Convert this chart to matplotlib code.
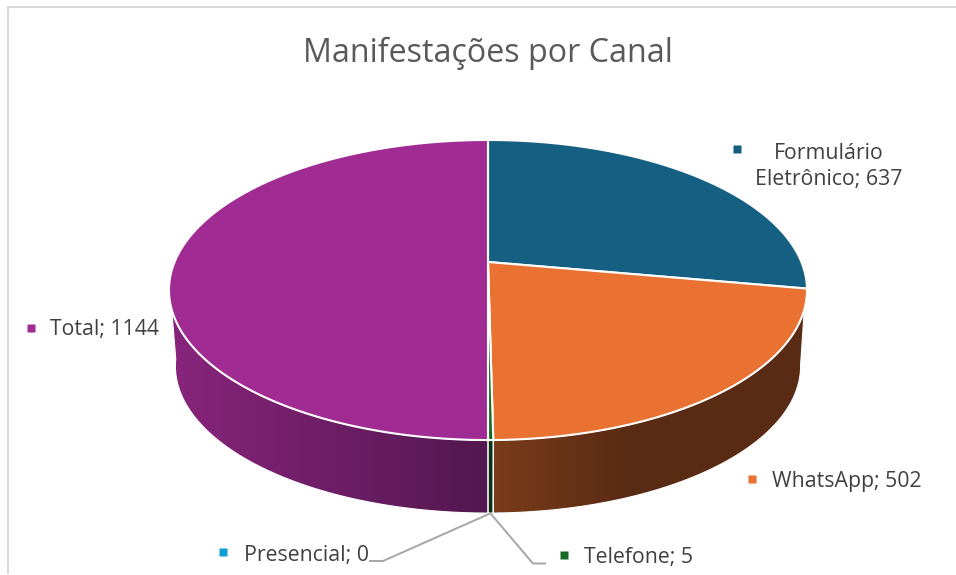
import numpy as np
import matplotlib
matplotlib.use("Agg")
import matplotlib.pyplot as plt
from matplotlib.path import Path
from matplotlib.patches import PathPatch

TITLE = "Manifestações por Canal"
categories = ["Formulário Eletrônico", "WhatsApp", "Telefone", "Presencial", "Total"]
values = [637, 502, 5, 0, 1144]
top_colors = ["#156082", "#E97132", "#196B24", "#0F9ED5", "#A02B93"]
# side-wall shading: colour at the start and end of a horizontal run (x0, x1 in pixels)
wall_shade = {
    "#E97132": ((122, 60, 26), (90, 43, 20), 493, 625),
    "#196B24": ((10, 50, 20), (10, 50, 20), 480, 500),
    "#A02B93": ((136, 36, 124), (84, 24, 80), 175, 478),
}

plt.rcParams["font.family"] = ["Open Sans", "DejaVu Sans"]
W, H = 956, 575
fig = plt.figure(figsize=(W / 100, H / 100), dpi=100)
ax = fig.add_axes([0, 0, 1, 1])
ax.axis("off")

# perspective projection of the pie's unit circle
CX, CY, A, B, K = 488, 262, 313.4, 144.8, 0.1867
BOT_CY, BOT_S = 338.6, 0.98


def project(theta, bottom=False):
    u, v = np.sin(theta), np.cos(theta)
    d = 1 + K * v
    x = A * u / d
    y = -B * v / d
    if bottom:
        return CX + BOT_S * x, BOT_CY + BOT_S * y
    return CX + x, CY + y


frac = np.array(values, float) / sum(values)
edges = np.concatenate([[0], np.cumsum(frac)]) * 2 * np.pi
TOP_VIS = np.radians([108, 252])
BOT_VIS = np.radians([98, 262])

# chart frame: top and left rules only
ax.plot([8, 8, W], [574, 6.5, 6.5], color="#D9D9D9", lw=1.5, solid_capstyle="butt", solid_joinstyle="miter")

# side walls: horizontal gradient clipped to the wall outline
for i, col in enumerate(top_colors):
    if edges[i + 1] <= edges[i] or col not in wall_shade:
        continue
    ta, tb = max(edges[i], TOP_VIS[0]), min(edges[i + 1], TOP_VIS[1])
    ba, bb = max(edges[i], BOT_VIS[0]), min(edges[i + 1], BOT_VIS[1])
    xt, yt = project(np.linspace(ta, tb, 240))
    xb, yb = project(np.linspace(ba, bb, 240), True)
    xo = np.concatenate([xt, xb[::-1], xt[:1]])
    yo = np.concatenate([yt, yb[::-1], yt[:1]])
    c0, c1, x0, x1 = wall_shade[col]
    px = np.arange(W) + 0.5
    t = np.clip((px - x0) / (x1 - x0), 0, 1)[:, None]
    rgb = (np.array(c0) + t * (np.array(c1) - np.array(c0))) / 255
    im = ax.imshow(rgb[None, :, :], extent=(0, W, H, 0), aspect="auto", zorder=2, interpolation="nearest")
    patch = PathPatch(Path(np.c_[xo, yo]), transform=ax.transData, facecolor="none", edgecolor="none")
    ax.add_patch(patch)
    im.set_clip_path(patch)
    ax.plot(xo, yo, color="white", lw=0.8, zorder=3)

# top face
for i, col in enumerate(top_colors):
    a, b = edges[i], edges[i + 1]
    if b <= a:
        continue
    th = np.linspace(a, b, max(3, int((b - a) / 0.005)))
    x, y = project(th)
    ax.fill(np.r_[CX, x], np.r_[CY, y], facecolor=col, edgecolor="white", lw=1.5, zorder=4, joinstyle="round")

# data labels
label_color = "#404040"
LFS = 15.3


def label(marker_xy, text_xy, text, col, ha="left"):
    ax.plot(*marker_xy, marker="s", ms=5.6, color=col, mec="none", zorder=6)
    ax.text(*text_xy, text, fontsize=LFS, color=label_color, ha=ha, va="center", linespacing=1.33, zorder=6)


label((737, 149), (829, 166.5), "Formulário\nEletrônico; " + str(values[0]), top_colors[0], ha="center")
label((752, 479), (772, 482), f"{categories[1]}; {values[1]}", top_colors[1])
label((564, 555), (584, 558), f"{categories[2]}; {values[2]}", top_colors[2])
label((223, 552), (244, 555.5), f"{categories[3]}; {values[3]}", top_colors[3])
label((31, 328), (50, 330), f"{categories[4]}; {values[4]}", top_colors[4])

# leader lines
ax.plot([370, 383, 489], [561, 561, 514], color="#A6A6A6", lw=1.4, zorder=5)
ax.plot([491, 533, 545], [514, 563.5, 563.5], color="#A6A6A6", lw=1.4, zorder=5)

ax.text(488, 53, TITLE, fontsize=23.2, color="#595959", ha="center", va="center", zorder=6)

ax.set_xlim(0, W)
ax.set_ylim(H, 0)
fig.savefig("out.png", dpi=100)
